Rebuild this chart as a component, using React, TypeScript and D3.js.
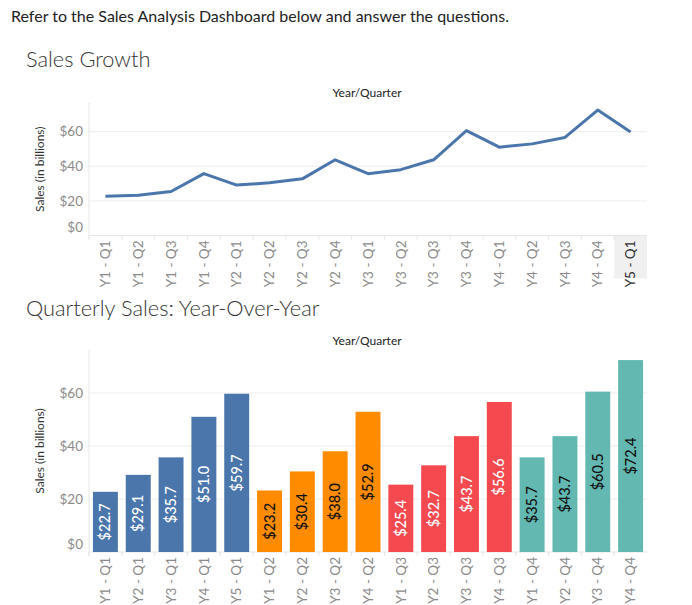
import React from "react";
import * as d3 from "d3";

const headerText = "Refer to the Sales Analysis Dashboard below and answer the questions.";
const lineTitle = "Sales Growth";
const barTitle = "Quarterly Sales: Year-Over-Year";
const axisHeader = "Year/Quarter";
const yAxisTitle = "Sales (in billions)";

const lineCategories = [
  "Y1 - Q1", "Y1 - Q2", "Y1 - Q3", "Y1 - Q4",
  "Y2 - Q1", "Y2 - Q2", "Y2 - Q3", "Y2 - Q4",
  "Y3 - Q1", "Y3 - Q2", "Y3 - Q3", "Y3 - Q4",
  "Y4 - Q1", "Y4 - Q2", "Y4 - Q3", "Y4 - Q4",
  "Y5 - Q1",
];
const lineValues = [22.7, 23.2, 25.4, 35.7, 29.1, 30.4, 32.7, 43.7, 35.7, 38.0, 43.7, 60.5, 51.0, 52.9, 56.6, 72.4, 59.7];
const highlightedCategory = "Y5 - Q1";

const barCategories = [
  "Y1 - Q1", "Y2 - Q1", "Y3 - Q1", "Y4 - Q1", "Y5 - Q1",
  "Y1 - Q2", "Y2 - Q2", "Y3 - Q2", "Y4 - Q2",
  "Y1 - Q3", "Y2 - Q3", "Y3 - Q3", "Y4 - Q3",
  "Y1 - Q4", "Y2 - Q4", "Y3 - Q4", "Y4 - Q4",
];
const barValues = [22.7, 29.1, 35.7, 51.0, 59.7, 23.2, 30.4, 38.0, 52.9, 25.4, 32.7, 43.7, 56.6, 35.7, 43.7, 60.5, 72.4];
const barQuarter = ["Q1", "Q1", "Q1", "Q1", "Q1", "Q2", "Q2", "Q2", "Q2", "Q3", "Q3", "Q3", "Q3", "Q4", "Q4", "Q4", "Q4"];

const quarterKeys = ["Q1", "Q2", "Q3", "Q4"];
const quarterColors = ["#4a76ab", "#ff8b00", "#f3494f", "#63b8b2"];
const quarterLabelColors = ["#ffffff", "#111111", "#ffffff", "#111111"];

const yTicks = [0, 20, 40, 60];

const FONT = "Lato, 'Open Sans', sans-serif";
const LEFT = 89;
const RIGHT = 647;

function Chart({ top, bottom, maxV, cats, children, highlight }: any) {
  const x = d3.scaleBand<string>().domain(cats).range([LEFT, RIGHT]).paddingInner(0.24).paddingOuter(0.12);
  const y = d3.scaleLinear().domain([0, maxV]).range([bottom, top]);
  const step = x.step();
  const fmt = (v: number) => "$" + d3.format("d")(v);
  return (
    <g>
      {yTicks.filter((t) => t > 0).map((t) => (
        <line key={"g" + t} x1={LEFT} x2={RIGHT} y1={y(t)} y2={y(t)} stroke="#eeeeee" strokeWidth={1} />
      ))}
      {highlight && (
        <rect x={x(highlight)! - (step - x.bandwidth()) / 2} y={bottom} width={step} height={43} fill="#f0f0f0" />
      )}
      <line x1={LEFT} x2={LEFT} y1={top} y2={bottom + 4} stroke="#e6e6e6" />
      <line x1={LEFT} x2={RIGHT} y1={bottom} y2={bottom} stroke="#e6e6e6" />
      {cats.map((c: string, i: number) => (
        <line key={"d" + i} x1={LEFT + i * step} x2={LEFT + i * step} y1={bottom} y2={bottom + 4} stroke="#e6e6e6" />
      ))}
      {yTicks.map((t) => (
        <text key={"t" + t} x={83} y={t === 0 ? y(t) - 8 : y(t)} dy="0.35em" textAnchor="end" fontSize={13.5} fill="#8a8a8a" fontFamily={FONT}>
          {fmt(t)}
        </text>
      ))}
      {cats.map((c: string) => {
        const cx = x(c)! + x.bandwidth() / 2;
        return (
          <text key={"x" + c} transform={`translate(${cx},${bottom + 5}) rotate(-90)`} textAnchor="end" dy="0.35em" fontSize={13.5} fill={c === highlight ? "#333333" : "#8a8a8a"} fontFamily={FONT}>
            {c}
          </text>
        );
      })}
      <text transform={`translate(44,${(top + bottom) / 2}) rotate(-90)`} textAnchor="middle" fontSize={12} fill="#333" fontFamily={FONT}>
        {yAxisTitle}
      </text>
      {children(x, y)}
    </g>
  );
}

export default function App() {
  return (
    <svg width={692} height={605} style={{ position: "absolute", left: 0, top: 0, background: "#fff" }}>
      <text x={11} y={22} fontSize={16} fill="#222" fontFamily={FONT}>{headerText}</text>

      <text x={26} y={67} fontSize={21.8} fill="#333" fontFamily={FONT} fontWeight={300}>{lineTitle}</text>
      <text x={367} y={97} textAnchor="middle" fontSize={12} fill="#222" fontFamily={FONT}>{axisHeader}</text>
      <Chart top={103} bottom={235.5} maxV={76.5} cats={lineCategories} highlight={highlightedCategory}>
        {(x: any, y: any) => {
          const line = d3.line<number>()
            .x((_, i) => x(lineCategories[i]) + x.bandwidth() / 2)
            .y((v) => y(v));
          return <path d={line(lineValues)!} fill="none" stroke="#4a76ab" strokeWidth={3} strokeLinejoin="round" />;
        }}
      </Chart>

      <text x={26} y={316} fontSize={21.8} fill="#333" fontFamily={FONT} fontWeight={300}>{barTitle}</text>
      <text x={367} y={345} textAnchor="middle" fontSize={12} fill="#222" fontFamily={FONT}>{axisHeader}</text>
      <Chart top={350} bottom={552} maxV={76.2} cats={barCategories}>
        {(x: any, y: any) => (
          <g>
            {barCategories.map((c, i) => {
              const qi = quarterKeys.indexOf(barQuarter[i]);
              const v = barValues[i];
              const bx = x(c);
              const cy = (y(v) + y(0)) / 2;
              return (
                <g key={"b" + c}>
                  <rect x={bx} y={y(v)} width={x.bandwidth()} height={y(0) - y(v)} fill={quarterColors[qi]} />
                  <text transform={`translate(${bx + x.bandwidth() / 2},${cy}) rotate(-90)`} textAnchor="middle" dy="0.35em" fontSize={14.5} fontWeight={500} fill={quarterLabelColors[qi]} fontFamily={FONT}>
                    {"$" + v.toFixed(1)}
                  </text>
                </g>
              );
            })}
          </g>
        )}
      </Chart>
    </svg>
  );
}
